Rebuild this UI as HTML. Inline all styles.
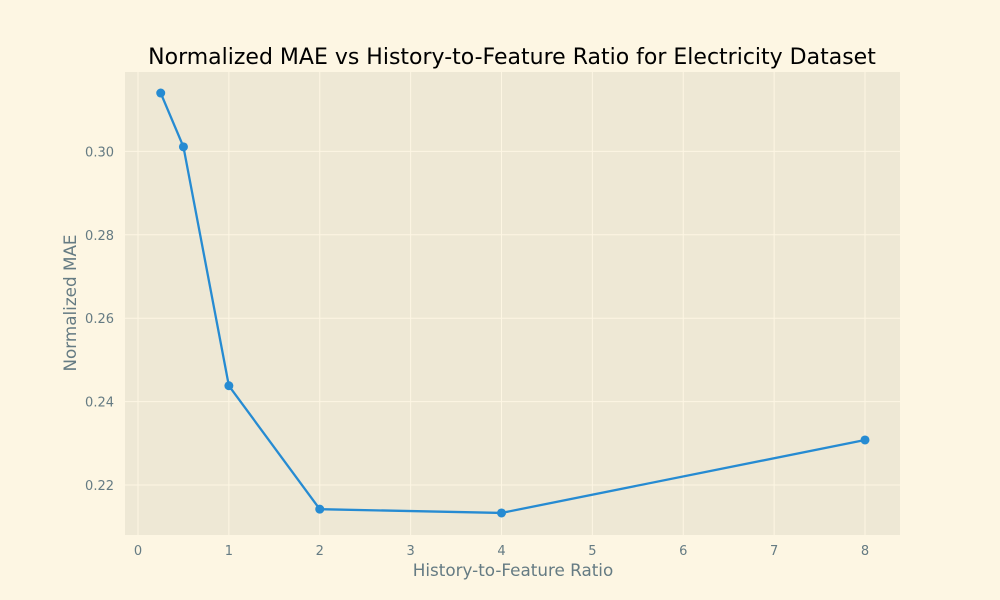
<!DOCTYPE html>
<html><head><meta charset="utf-8"><style>
body{margin:0;background:#fdf6e3;}
svg{display:block;font-family:"DejaVu Sans","Liberation Sans",sans-serif;}
</style></head><body>
<svg id="chart" width="1000" height="600">
<rect width="1000" height="600" fill="#fdf6e3"/>
<rect x="125" y="72" width="775" height="463" fill="#eee8d5"/>
<g id="grid"></g><g id="ticks"></g>
<text x="512" y="64" text-anchor="middle" font-size="22" fill="#000">Normalized MAE vs History-to-Feature Ratio for Electricity Dataset</text>
<text x="513" y="576" text-anchor="middle" font-size="16.8" fill="#657b83">History-to-Feature Ratio</text>
<text transform="translate(76,303) rotate(-90)" text-anchor="middle" font-size="16.8" fill="#657b83">Normalized MAE</text>
<g id="series"></g>
</svg>
<script>
const xValues=[0.25,0.5,1,2,4,8];
const maeValues=[0.3140,0.3011,0.2438,0.2142,0.2133,0.2308];
const xTicks=[0,1,2,3,4,5,6,7,8];
const yTicks=[0.22,0.24,0.26,0.28,0.30];
const yTickLabels=["0.22","0.24","0.26","0.28","0.30"];
const NS="http://www.w3.org/2000/svg";
function X(v){return 138+v*90.875;}
function Y(v){return 485-(v-0.22)/0.02*83.4;}
function mk(t,a,p){const e=document.createElementNS(NS,t);for(const k in a)e.setAttribute(k,a[k]);p.appendChild(e);return e;}
const g=document.getElementById('grid'),tk=document.getElementById('ticks'),s=document.getElementById('series');
xTicks.forEach(v=>{
 const l=mk('line',{x1:X(v),x2:X(v),y1:72,y2:535,stroke:'#fdf6e3','stroke-width':1},g);
 
 
 const t=mk('text',{x:X(v),y:555,'text-anchor':'middle','font-size':13,fill:'#657b83'},tk);
 t.textContent=v;
 
 
});
yTicks.forEach((v,i)=>{
 const l=mk('line',{x1:125,x2:900,y1:Y(v),y2:Y(v),stroke:'#fdf6e3','stroke-width':1},g);
 
 
 const t=mk('text',{x:114,y:Y(v)+5,'text-anchor':'end','font-size':13,fill:'#657b83'},tk);
 t.textContent=yTickLabels[i];
 
 
});
const pl=mk('polyline',{points:xValues.map((x,i)=>X(x)+','+Y(maeValues[i])).join(' '),fill:'none',stroke:'#268bd2','stroke-width':2.3},s);


xValues.forEach((x,i)=>{
 const c=mk('circle',{cx:X(x),cy:Y(maeValues[i]),r:4.5,fill:'#268bd2'},s);
 
 
});
</script>
</body></html>
